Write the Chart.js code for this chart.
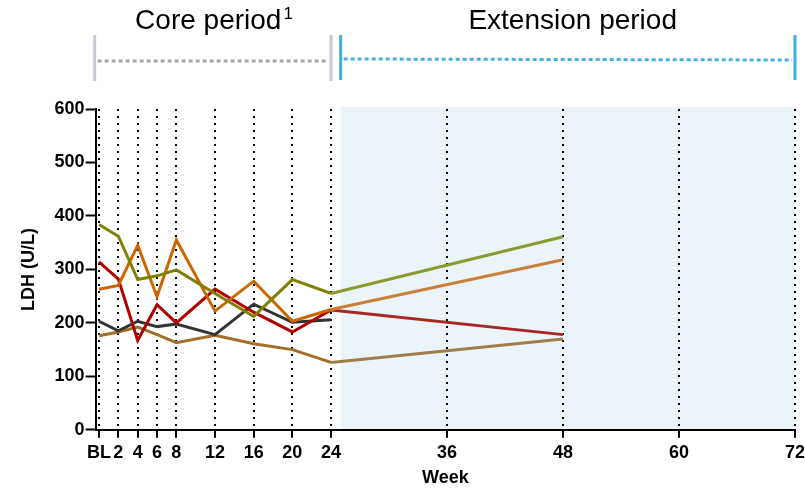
<!DOCTYPE html>
<html>
<head>
<meta charset="utf-8">
<script src="https://cdn.jsdelivr.net/npm/chart.js@4"></script>
<style>
  html, body { margin: 0; padding: 0; background: #fff; }
  #wrap { width: 805px; height: 489px; }
</style>
</head>
<body>
<div id="wrap"><canvas id="ldh-chart"></canvas></div>
<script>
// weeks (x) and LDH values per patient
var weeks = [0, 2, 4, 6, 8, 12, 16, 20, 24, 48];
var tickWeeks = [0, 2, 4, 6, 8, 12, 16, 20, 24, 36, 48, 60, 72];
var tickLabels = ['BL', '2', '4', '6', '8', '12', '16', '20', '24', '36', '48', '60', '72'];

var olive = [384, 362, 281, 288, 299, 255, 212, 281, 255, 361];
var orange = [263, 270, 345, 249, 355, 222, 278, 203, 225, 318];
var red = [314, 282, 167, 234, 200, 263, 220, 183, 224, 178];
var grey = [203, 185, 203, 193, 198, 178, 235, 201, 206];
var brown = [176, 183, 192, 178, 163, 177, 161, 150, 126, 170];

var series = [
	{ values: olive, core: '#7f8000', ext: '#8a9a30' },
	{ values: orange, core: '#cc6600', ext: '#c8803a' },
	{ values: red, core: '#b00000', ext: '#a82828' },
	{ values: grey, core: '#333333', ext: '#333333' },
	{ values: brown, core: '#a0702a', ext: '#a07c4a' }
];

const FONT = "'Liberation Sans', Arial, sans-serif";

const to_points = (values) => values.map((v, i) => ({ x: weeks[i], y: v }));

// shaded extension area + period brackets on top
const periodPlugin = {
	id: 'periods',
	beforeDraw: (chart) => {
		const ctx = chart.ctx;
		const x = chart.scales.x;
		const area = chart.chartArea;
		ctx.save();
		ctx.fillStyle = '#eaf4f9';
		let x0 = x.getPixelForValue(25);
		ctx.fillRect(x0, area.top - 2, x.getPixelForValue(72) - x0, area.bottom - area.top + 1);
		ctx.restore();
	},
	afterDraw: (chart) => {
		const ctx = chart.ctx;
		const x = chart.scales.x;
		let left = chart.chartArea.left - 1;
		let core24 = x.getPixelForValue(24);
		let ext25 = x.getPixelForValue(25);
		let ext72 = x.getPixelForValue(72);
		ctx.save();

		// vertical bars
		ctx.lineWidth = 3;
		ctx.strokeStyle = '#c5c9d8';
		[left, core24].forEach((px) => {
			ctx.beginPath(); ctx.moveTo(px, 35); ctx.lineTo(px, 81); ctx.stroke();
		});
		ctx.strokeStyle = '#3cb0e0';
		[ext25, ext72].forEach((px) => {
			ctx.beginPath(); ctx.moveTo(px, 35); ctx.lineTo(px, 80); ctx.stroke();
		});

		// dotted lines
		ctx.setLineDash([4, 3]);
		ctx.strokeStyle = '#a8a8a8';
		ctx.beginPath(); ctx.moveTo(left + 3, 61); ctx.lineTo(core24 - 3, 61); ctx.stroke();
		ctx.strokeStyle = '#45b2e2';
		ctx.beginPath(); ctx.moveTo(ext25 + 3, 59); ctx.lineTo(ext72 - 3, 60); ctx.stroke();
		ctx.setLineDash([]);

		// labels
		ctx.fillStyle = '#000';
		ctx.textBaseline = 'alphabetic';
		ctx.textAlign = 'center';
		ctx.font = '28px ' + FONT;
		ctx.fillText('Core period', x.getPixelForValue(11.3), 29);
		let w = ctx.measureText('Core period').width;
		ctx.font = '17px ' + FONT;
		ctx.textAlign = 'left';
		ctx.fillText('1', x.getPixelForValue(11.3) + w / 2 + 2, 19);
		ctx.font = '28px ' + FONT;
		ctx.textAlign = 'center';
		ctx.fillText('Extension period', x.getPixelForValue(49), 29);
		ctx.restore();
	}
};

new Chart(document.getElementById('ldh-chart'), {
	type: 'line',
	data: {
		datasets: series.map((s) => ({
			data: to_points(s.values),
			borderColor: s.core,
			borderWidth: 3,
			pointRadius: 0,
			tension: 0,
			segment: {
				borderColor: (c) => c.p0.parsed.x >= 24 ? s.ext : s.core
			}
		}))
	},
	options: {
		responsive: true,
		maintainAspectRatio: false,
		animation: false,
		layout: { padding: { top: 109, right: 0, left: 18, bottom: 0 } },
		plugins: {
			legend: { display: false },
			tooltip: { enabled: false }
		},
		scales: {
			x: {
				type: 'linear',
				min: -0.35,
				max: 72,
				afterBuildTicks: (axis) => {
					axis.ticks = tickWeeks.map((v) => ({ value: v }));
				},
				// let the last label run off the edge like the original
				afterFit: (axis) => { axis.paddingRight = 10; },
				ticks: {
					autoSkip: false,
					maxRotation: 0,
					color: '#000',
					padding: 4,
					font: { family: FONT, size: 18, weight: 'bold' },
					callback: (value) => tickLabels[tickWeeks.indexOf(value)]
				},
				grid: {
					display: true,
					drawOnChartArea: true,
					color: '#000',
					lineWidth: 2,
					tickLength: 8,
					tickColor: '#000',
					tickWidth: 2,
					tickBorderDash: []
				},
				border: { display: true, color: '#000', width: 2, dash: [2, 5] },
				title: {
					display: true,
					text: 'Week',
					color: '#000',
					padding: { top: 0, bottom: 0 },
					font: { family: FONT, size: 18, weight: 'bold' }
				}
			},
			y: {
				min: 0,
				max: 600,
				ticks: {
					stepSize: 100,
					color: '#000',
					padding: 1,
					font: { family: FONT, size: 18, weight: 'bold' }
				},
				grid: {
					drawOnChartArea: false,
					drawTicks: true,
					tickLength: 10,
					tickColor: '#000',
					tickWidth: 2
				},
				border: { display: true, color: '#000', width: 2 },
				title: {
					display: true,
					text: 'LDH (U/L)',
					color: '#000',
					padding: { top: 0, bottom: 14 },
					font: { family: FONT, size: 18, weight: 'bold' }
				}
			}
		}
	},
	plugins: [periodPlugin]
});
</script>
</body>
</html>
